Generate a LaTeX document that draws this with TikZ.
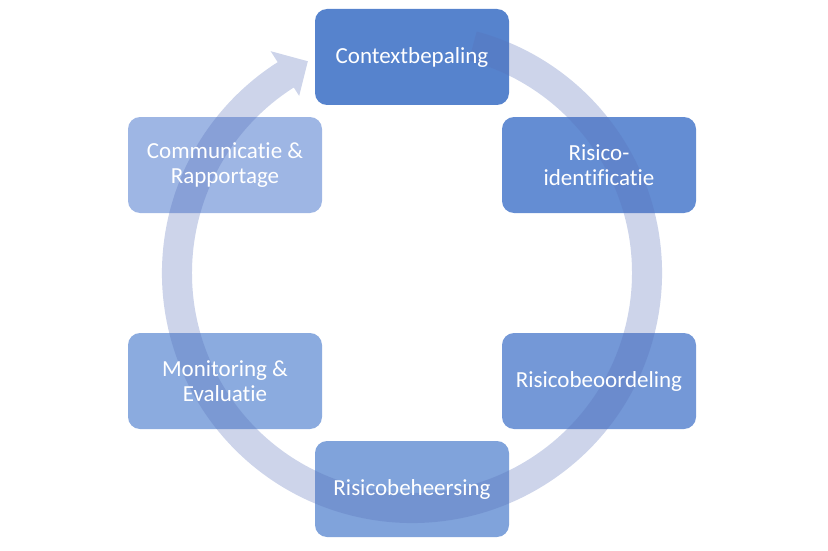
\documentclass[tikz,border=0pt]{standalone}
\usepackage{fontspec}
\setmainfont{Carlito}[Ligatures={NoCommon}]
\usetikzlibrary{calc}
\definecolor{cA}{RGB}{86,131,205}
\definecolor{cB}{RGB}{100,141,211}
\definecolor{cC}{RGB}{116,152,215}
\definecolor{cD}{RGB}{128,163,219}
\definecolor{cE}{RGB}{139,171,223}
\definecolor{cF}{RGB}{158,182,228}
\definecolor{bandc}{RGB}{88,112,185}
\begin{document}
\begin{tikzpicture}[x=1pt,y=1pt,
  boxshape/.style={rectangle, rounded corners=12pt, minimum width=194pt, minimum height=96pt, inner sep=0pt, draw=none},
  boxtext/.style={text=white, font=\fontsize{23}{25.5}\selectfont, align=center, inner sep=0pt}]
\useasboundingbox (0,0) rectangle (828,-551);
\coordinate (C) at (412,-273);
% boxes
\node[boxshape, fill=cA] (b1) at (412,-57) {};
\node[boxshape, fill=cB] (b2) at (599,-165) {};
\node[boxshape, fill=cC] (b3) at (599,-381) {};
\node[boxshape, fill=cD] (b4) at (412,-489) {};
\node[boxshape, fill=cE] (b5) at (225,-381) {};
\node[boxshape, fill=cF] (b6) at (225,-165) {};
% circular arrow band
\fill[bandc, fill opacity=0.3]
  ($(C)+(75:250)$) arc[start angle=75, end angle=-237.5, radius=250]
  -- ($(C)+(-237.5:263)$) -- ($(C)+(-243.8:236)$) -- ($(C)+(-237.5:210)$)
  -- ($(C)+(-237.5:220)$) arc[start angle=-237.5, end angle=75, radius=220] -- cycle;
% texts
\node[boxtext] (t1) at (b1) {Contextbepaling};
\node[boxtext] (t2) at (b2) {Risico-\\identificatie};
\node[boxtext] (t3) at (b3) {Risicobeoordeling};
\node[boxtext] (t4) at (b4) {Risicobeheersing};
\node[boxtext] (t5) at (b5) {Monitoring \&\\Evaluatie};
\node[boxtext] (t6) at (b6) {Communicatie \&\\Rapportage};
\end{tikzpicture}
\end{document}
